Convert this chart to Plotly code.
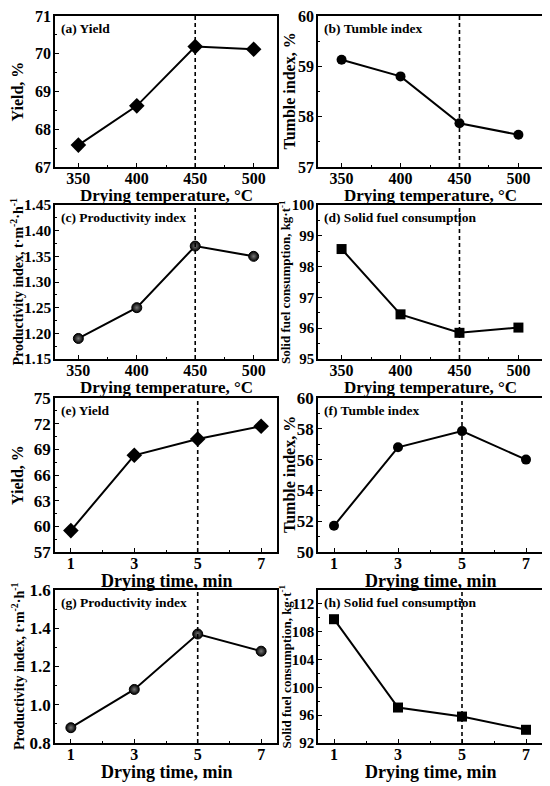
import plotly.graph_objects as go

# x values
temps = [350, 400, 450, 500]
times = [1, 3, 5, 7]

# temperature series
yield_temp = [67.58, 68.62, 70.19, 70.12]
tumble_temp = [59.13, 58.80, 57.87, 57.64]
prod_temp = [1.19, 1.25, 1.37, 1.35]
fuel_temp = [98.57, 96.45, 95.85, 96.02]

# time series
yield_time = [59.5, 68.3, 70.2, 71.7]
tumble_time = [51.7, 56.8, 57.85, 56.0]
prod_time = [0.88, 1.08, 1.37, 1.28]
fuel_time = [109.8, 97.1, 95.8, 93.9]

opt_temp = 450
opt_time = 5

# page has an 8px body margin, so the figure is drawn 8px smaller
PAD = 8
W, H = 550 - PAD, 786 - PAD
FONT = "Liberation Serif, Times New Roman, serif"


def px(xp):
    return (xp - PAD) / W


def py(yp):
    return 1 - (yp - PAD) / H


# plot-area boxes in window pixels: (left, right, top, bottom)
cols = [(55, 277), (318, 542)]
rows = [(16, 167), (205, 359), (398, 552), (590, 743)]

panels = [
    # x, y, label, marker, yrange, dtick, ytick size, ytitle, ytitle size, ytitle x
    (temps, yield_temp, "(a) Yield", "diamond", [67, 71], 1, 16, "Yield, %", 16, 17),
    (temps, tumble_temp, "(b) Tumble index", "circle", [57, 60], 1, 16,
     "Tumble index, %", 16, 289),
    (temps, prod_temp, "(c) Productivity index", "circle", [1.15, 1.45], 0.05, 15.5,
     "Productivity index, t·m<sup>-2</sup>·h<sup>-1</sup>", 14, 17.5),
    (temps, fuel_temp, "(d) Solid fuel consumption", "square", [95, 100], 1, 15,
     "Solid fuel consumption, kg·t<sup>-1</sup>", 13, 285),
    (times, yield_time, "(e) Yield", "diamond", [57, 75], 3, 17, "Yield, %", 16, 17),
    (times, tumble_time, "(f) Tumble index", "circle", [50, 60], 2, 17,
     "Tumble index, %", 16, 289),
    (times, prod_time, "(g) Productivity index", "circle", [0.8, 1.6], 0.2, 17,
     "Productivity index, t·m<sup>-2</sup>·h<sup>-1</sup>", 14, 17.5),
    (times, fuel_time, "(h) Solid fuel consumption", "square", [92, 114], 4, 15,
     "Solid fuel consumption, kg·t<sup>-1</sup>", 13, 285),
]

fig = go.Figure()
annotations = []
shapes = []

for i, (xs, ys, label, sym, yr, dt, yts, ytitle, ysize, ytx) in enumerate(panels):
    r, c = divmod(i, 2)
    l, rr = cols[c]
    t, b = rows[r]
    n = i + 1
    xa = "x" if n == 1 else f"x{n}"
    ya = "y" if n == 1 else f"y{n}"
    is_temp = xs is temps

    marker = dict(symbol=sym, size=12 if sym == "diamond" else 10, color="black")
    if "Productivity" in label:
        marker.update(gradient=dict(type="radial", color="#777777"),
                      line=dict(color="black", width=1))
    fig.add_trace(go.Scatter(
        x=xs, y=ys, mode="lines+markers", xaxis=xa, yaxis=ya,
        line=dict(color="black", width=2), marker=marker,
        cliponaxis=False, showlegend=False,
    ))

    vx = opt_temp if is_temp else opt_time
    shapes.append(dict(type="line", xref=xa, yref=f"{ya} domain", x0=vx, x1=vx,
                       y0=0, y1=1, line=dict(color="black", width=1.6, dash="4px,3px")))

    axis_common = dict(showline=True, linecolor="black", linewidth=1.5, mirror=True,
                       ticks="inside", ticklen=4, tickcolor="black", showgrid=False,
                       zeroline=False, automargin=False, ticklabeloverflow="allow")
    if is_temp:
        xaxis = dict(range=[330, 520], tickvals=temps,
                     minor=dict(dtick=25, tick0=350, ticks="inside", ticklen=2.5,
                                tickcolor="black"))
    else:
        xaxis = dict(range=[0.5, 7.5], tickvals=times,
                     minor=dict(dtick=1, tick0=1, ticks="inside", ticklen=2.5,
                                tickcolor="black"))
    xaxis.update(axis_common, domain=[px(l), px(rr)], anchor=ya, ticklabelstandoff=-4,
                 tickfont=dict(family=FONT, size=16, color="black", weight="bold"))
    yaxis = dict(range=yr, dtick=dt, tick0=yr[0],
                 minor=dict(dtick=dt / 2, tick0=yr[0], ticks="inside", ticklen=2.5,
                            tickcolor="black"),
                 tickformat=".2f" if dt == 0.05 else (".1f" if dt == 0.2 else "d"))
    yaxis.update(axis_common, domain=[py(b), py(t)], anchor=xa, ticklabelstandoff=-1,
                 tickfont=dict(family=FONT, size=yts, color="black", weight="bold"))
    fig.update_layout({f"xaxis{'' if n == 1 else n}": xaxis,
                       f"yaxis{'' if n == 1 else n}": yaxis})

    # panel label
    annotations.append(dict(text=f"<b>{label}</b>", xref=f"{xa} domain", yref=f"{ya} domain",
                            x=0.02, y=0.98, xanchor="left", yanchor="top", showarrow=False,
                            font=dict(family=FONT, size=13.5, color="black")))
    # x title
    xt = "Drying temperature, °C" if is_temp else "Drying time, min"
    annotations.append(dict(text=f"<b>{xt}</b>", xref="paper", yref="paper",
                            x=px((l + rr) / 2), y=py(b + 29),
                            xanchor="center", yanchor="middle", showarrow=False,
                            font=dict(family=FONT, size=17 if is_temp else 18, color="black")))
    # y title
    annotations.append(dict(text=f"<b>{ytitle}</b>", xref="paper", yref="paper",
                            x=px(ytx), y=py((t + b) / 2), textangle=-90,
                            xanchor="center", yanchor="middle", showarrow=False,
                            font=dict(family=FONT, size=ysize, color="black")))

fig.update_layout(
    width=W, height=H,
    margin=dict(l=0, r=0, t=0, b=0),
    paper_bgcolor="white", plot_bgcolor="white",
    annotations=annotations, shapes=shapes,
)

fig.write_html("out.html")
